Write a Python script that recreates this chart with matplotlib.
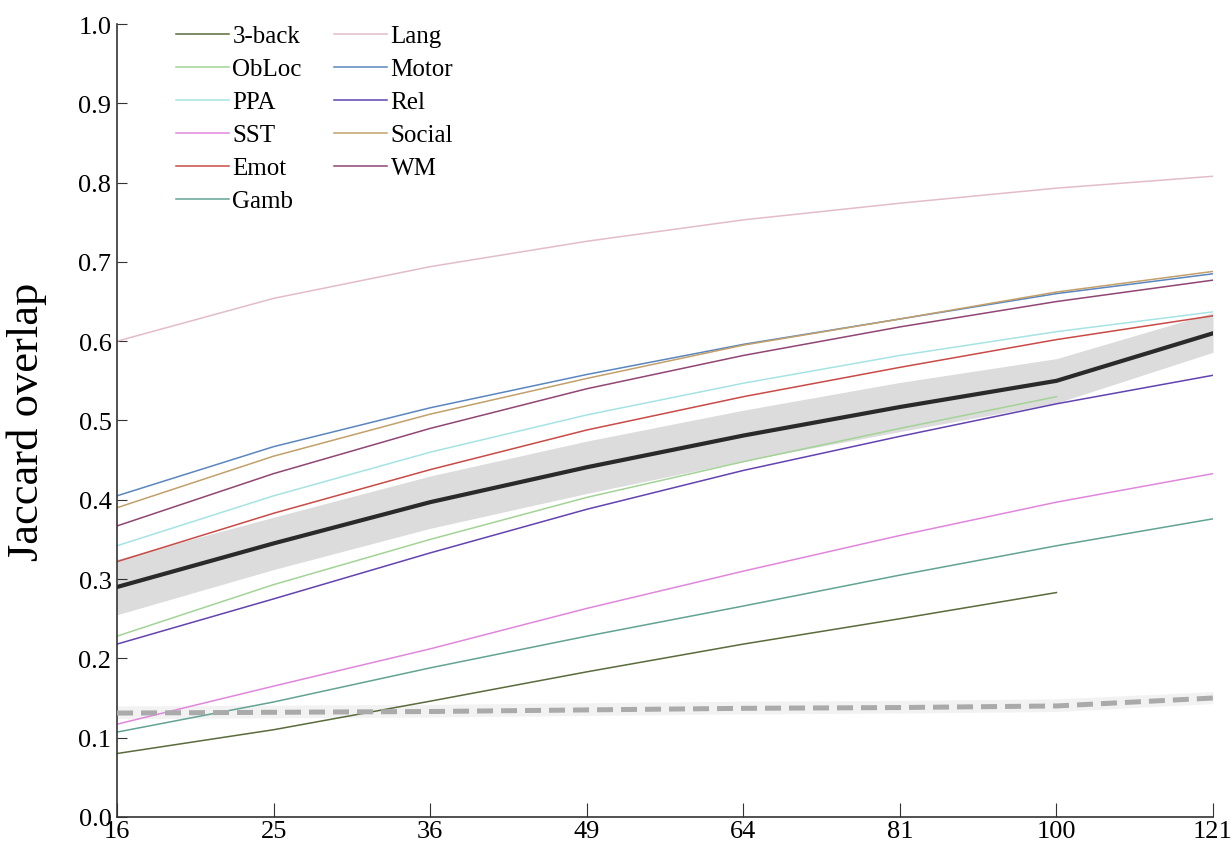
import numpy as np
import matplotlib
matplotlib.use("Agg")
import matplotlib.pyplot as plt

plt.rcParams['font.family'] = ['Liberation Serif', 'DejaVu Serif']

# grid sizes on the x axis
sizes = [16, 25, 36, 49, 64, 81, 100, 121]

# Jaccard overlap per task (3-back and ObLoc stop at 100)
back3 = [0.080, 0.110, 0.146, 0.183, 0.218, 0.250, 0.283]
obloc = [0.228, 0.293, 0.350, 0.403, 0.448, 0.490, 0.530]
ppa = [0.342, 0.405, 0.460, 0.507, 0.547, 0.582, 0.612, 0.637]
sst = [0.117, 0.165, 0.212, 0.263, 0.310, 0.355, 0.397, 0.433]
emot = [0.322, 0.383, 0.438, 0.488, 0.530, 0.567, 0.602, 0.632]
gamb = [0.107, 0.145, 0.188, 0.228, 0.266, 0.305, 0.342, 0.376]
lang = [0.600, 0.654, 0.694, 0.726, 0.753, 0.774, 0.793, 0.808]
motor = [0.405, 0.467, 0.516, 0.558, 0.596, 0.628, 0.660, 0.685]
rel = [0.218, 0.275, 0.333, 0.388, 0.437, 0.480, 0.521, 0.557]
social = [0.390, 0.455, 0.508, 0.553, 0.595, 0.628, 0.662, 0.688]
wm = [0.367, 0.433, 0.490, 0.540, 0.582, 0.618, 0.650, 0.677]

# mean over tasks and its shaded spread
mean_vals = [0.290, 0.345, 0.397, 0.441, 0.481, 0.517, 0.550, 0.610]
mean_lo = [0.255, 0.312, 0.364, 0.408, 0.449, 0.486, 0.522, 0.586]
mean_hi = [0.325, 0.378, 0.430, 0.474, 0.513, 0.548, 0.578, 0.636]

# null / chance level
null_vals = [0.131, 0.132, 0.133, 0.135, 0.137, 0.138, 0.140, 0.150]
null_lo = [0.124, 0.125, 0.126, 0.128, 0.130, 0.131, 0.133, 0.143]
null_hi = [0.140, 0.141, 0.142, 0.144, 0.146, 0.147, 0.149, 0.158]

tasks = [
    ('3-back', back3, '#5a6b3c'),
    ('ObLoc', obloc, '#a3d396'),
    ('PPA', ppa, '#a6e3e3'),
    ('SST', sst, '#e087dc'),
    ('Emot', emot, '#c94a46'),
    ('Gamb', gamb, '#62a394'),
    ('Lang', lang, '#e2bccb'),
    ('Motor', motor, '#5a86c0'),
    ('Rel', rel, '#6243b0'),
    ('Social', social, '#c2a06a'),
    ('WM', wm, '#914573'),
]

x = np.arange(len(sizes))

fig = plt.figure(figsize=(12.32, 8.45), dpi=100)
ax = fig.add_axes([0.095, 0.032, 0.8896, 0.9384])

# shaded bands
ax.fill_between(x, null_lo, null_hi, color='#f2f2f2', lw=0, zorder=1)
ax.fill_between(x, mean_lo, mean_hi, color='#dcdcdc', lw=0, zorder=1)

for name, vals, color in tasks:
    ax.plot(x[:len(vals)], vals, color=color, lw=1.1, label=name, zorder=2)

ax.plot(x, null_vals, color='#aaaaaa', lw=3.6, dashes=(3.2, 1.6), zorder=3)
ax.plot(x, mean_vals, color='#2a2a2a', lw=3.0, zorder=4)

ax.set_xlim(0, len(sizes) - 1)
ax.set_ylim(0, 1.0)
ax.set_xticks(x)
ax.set_xticklabels([str(s) for s in sizes])
ax.set_yticks(np.arange(0, 1.01, 0.1))
ax.set_yticklabels(['%.1f' % v for v in np.arange(0, 1.01, 0.1)])
ax.tick_params(axis='both', direction='in', labelsize=19, color='#333333')
ax.tick_params(axis='y', length=7, pad=4)
ax.tick_params(axis='x', length=10, pad=2)

for side in ['top', 'right']:
    ax.spines[side].set_visible(False)
for side in ['left', 'bottom']:
    ax.spines[side].set_color('#333333')
    ax.spines[side].set_linewidth(1.2)

ax.set_ylabel('Jaccard overlap', fontsize=32)
ax.yaxis.set_label_coords(-0.064, 0.5)

ax.legend(loc='upper left', bbox_to_anchor=(0.1247, 0.996), bbox_transform=fig.transFigure,
          ncol=2, frameon=False, fontsize=18, handlelength=2.1, handletextpad=0.15,
          columnspacing=1.3, labelspacing=0.42)

fig.savefig('out.png', dpi=100)
